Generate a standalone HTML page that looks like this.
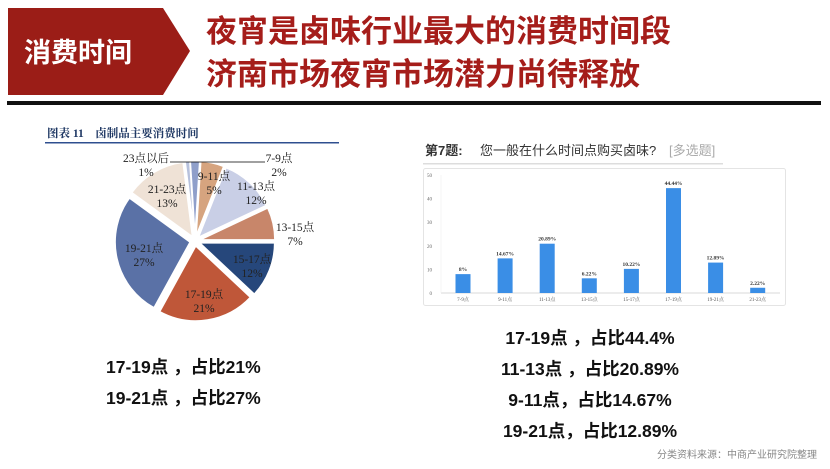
<!DOCTYPE html><html><head><meta charset="utf-8"><style>
html,body{margin:0;padding:0;background:#fff;width:830px;height:469px;overflow:hidden}
svg text{font-family:"Liberation Sans","Noto Sans CJK SC",sans-serif}
svg .s, svg .s text{font-family:"Liberation Serif","Noto Serif CJK SC",serif}
</style></head><body>
<svg id="g" width="830" height="469" viewBox="0 0 830 469" xmlns="http://www.w3.org/2000/svg">
<polygon points="8,8 163,8 190,51 163,95 8,95" fill="#9b1d17"/>
<text x="24" y="62" font-size="27" font-weight="bold" fill="#fff">消费时间</text>
<text x="206" y="42" font-size="31" font-weight="bold" fill="#a51d1a">夜宵是卤味行业最大的消费时间段</text>
<text x="206" y="85" font-size="31" font-weight="bold" fill="#a51d1a">济南市场夜宵市场潜力尚待释放</text>
<rect x="7" y="101" width="814" height="4" fill="#111"/>
<text class="s" x="47" y="137" font-size="11.5" font-weight="bold" fill="#1f3864">图表 11　卤制品主要消费时间</text>
<rect x="45" y="142" width="294" height="1.5" fill="#2f4f8f"/>
<g id="pie"></g>
<line x1="170" y1="162" x2="265" y2="162" stroke="#000" stroke-width="0.8"/>
<g class="s" font-size="11.5" fill="#222" text-anchor="middle">
<text x="146" y="162">23点以后</text><text x="146" y="176">1%</text>
<text x="279" y="162">7-9点</text><text x="279" y="176">2%</text>
<text x="214" y="180">9-11点</text><text x="214" y="194">5%</text>
<text x="256" y="190">11-13点</text><text x="256" y="204">12%</text>
<text x="295" y="231">13-15点</text><text x="295" y="245">7%</text>
<text x="252" y="263">15-17点</text><text x="252" y="277">12%</text>
<text x="204" y="298">17-19点</text><text x="204" y="312">21%</text>
<text x="144" y="252">19-21点</text><text x="144" y="266">27%</text>
<text x="167" y="193">21-23点</text><text x="167" y="207">13%</text>
</g>
<text x="425" y="155" font-size="13" font-weight="bold" fill="#333">第7题:</text>
<text x="480" y="155" font-size="13" fill="#333">您一般在什么时间点购买卤味?</text>
<text x="669" y="155" font-size="13" fill="#aaa">[多选题]</text>
<rect x="423" y="163" width="300" height="1.5" fill="#ddd"/>
<rect x="423.5" y="168.5" width="362" height="137" fill="#fff" stroke="#e4e4e4" rx="2"/>
<g id="bar" class="s"></g>
<g font-size="17.5" font-weight="bold" fill="#111">
<text x="106" y="373">17-19点 ，占比21%</text>
<text x="106" y="404">19-21点 ，占比27%</text>
<g text-anchor="middle">
<text x="590" y="344">17-19点 ，占比44.4%</text>
<text x="590" y="375">11-13点 ，占比20.89%</text>
<text x="590" y="406">9-11点，占比14.67%</text>
<text x="590" y="437">19-21点，占比12.89%</text>
</g></g>
<text x="817" y="458" font-size="10" fill="#888" text-anchor="end">分类资料来源：中商产业研究院整理</text>
</svg>
<script>
var d=[[2,"#8f9fca"],[5,"#d6a47f"],[12,"#c9cfe6"],[7,"#c8866a"],[12,"#26477b"],[21,"#bf5739"],[27,"#5a71a6"],[13,"#efe2d6"],[1,"#b7c1dc"]];
var cx=195,cy=241,r=75,a=-1*3.6,p=document.getElementById("pie"),h="";
d.forEach(function(s){var a0=a,a1=a+s[0]*3.6;a=a1;var m=(a0+a1)/2*Math.PI/180,ex=5;
var ox=cx+ex*Math.sin(m),oy=cy-ex*Math.cos(m);
function pt(t){t=t*Math.PI/180;return (ox+r*Math.sin(t)).toFixed(2)+","+(oy-r*Math.cos(t)).toFixed(2)}
h+='<path d="M'+ox.toFixed(2)+','+oy.toFixed(2)+' L'+pt(a0)+' A'+r+','+r+' 0 '+(a1-a0>180?1:0)+' 1 '+pt(a1)+' Z" fill="'+s[1]+'" stroke="#fff" stroke-width="1.5"/>';});
p.innerHTML=h;
var b=[[8,"8%","7-9点"],[14.67,"14.67%","9-11点"],[20.89,"20.89%","11-13点"],[6.22,"6.22%","13-15点"],[10.22,"10.22%","15-17点"],[44.44,"44.44%","17-19点"],[12.89,"12.89%","19-21点"],[2.22,"2.22%","21-23点"]];
var y0=293,k=2.36,g="";
for(var i=0;i<=5;i++){var y=y0-i*10*k;g+='<text x="432" y="'+(y+2)+'" font-size="5" fill="#666" text-anchor="end">'+i*10+'</text>';}
g+='<line x1="441" y1="293" x2="780" y2="293" stroke="#ccc" stroke-width="0.8"/><line x1="441" y1="175" x2="441" y2="293" stroke="#eee" stroke-width="0.6"/>';
b.forEach(function(v,i){var x=463+i*42.1,hh=v[0]*k;
g+='<rect x="'+(x-7.5)+'" y="'+(y0-hh)+'" width="15" height="'+hh+'" fill="#3a8ee6"/>';
g+='<text x="'+x+'" y="'+(y0-hh-3)+'" font-size="5.5" font-weight="bold" fill="#333" text-anchor="middle">'+v[1]+'</text>';
g+='<text x="'+x+'" y="301" font-size="5" fill="#555" text-anchor="middle">'+v[2]+'</text>';});
document.getElementById("bar").innerHTML=g;
</script>
</body></html>
